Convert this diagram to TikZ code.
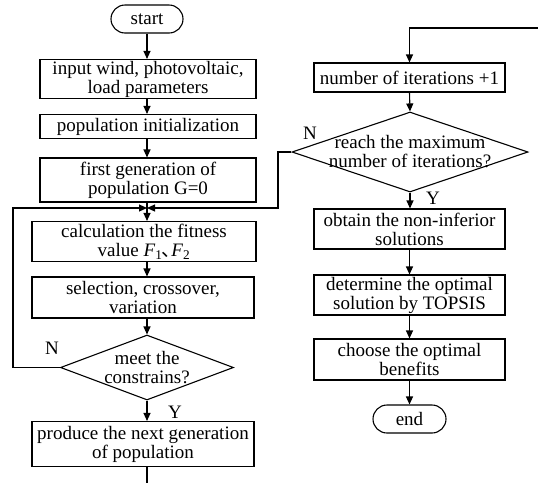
\documentclass[tikz,border=0pt]{standalone}
\usepackage{fontspec}
\setmainfont{Liberation Serif}
\newfontfamily\cjk{Noto Sans CJK SC}
\usetikzlibrary{shapes.misc,shapes.geometric,arrows.meta}
\begin{document}
\begin{tikzpicture}[x=1pt,y=-1pt,
  every node/.style={font=\fontsize{19}{19}\selectfont, inner sep=0pt, align=center},
  box/.style={draw, rectangle, line width=1.1pt},
  term/.style={draw, rounded rectangle, line width=1.1pt},
  dia/.style={draw, diamond, line width=1.1pt},
  arr/.style={line width=1.1pt, -{Triangle[length=8pt,width=7pt]}},
  ln/.style={line width=1.1pt}]
\useasboundingbox (0,0) rectangle (538,483);
% left column
\node[term, minimum width=72pt, minimum height=28pt] (start) at (147,19) {start};
\node[box, minimum width=216pt, minimum height=39pt] (in1) at (148,79) {input wind, photovoltaic,\\load parameters};
\node[box, minimum width=216pt, minimum height=24pt] (in2) at (148,126.5) {population initialization};
\node[box, minimum width=216pt, minimum height=44pt] (in3) at (148,180) {first generation of\\population G=0};
\node[box, minimum width=224pt, minimum height=40pt] (calc) at (144,241.5) {calculation the fitness\\value \textit{F}\textsubscript{1}\kern-1pt{\cjk 、}\kern-9pt\textit{F}\textsubscript{2}};
\node[box, minimum width=222pt, minimum height=41pt] (sel) at (143,297.5) {selection, crossover,\\variation};
\node[dia, minimum width=173pt, minimum height=65pt, label={[align=center]center:meet the\\constrains?}] (d1) at (147,367.5) {};
\node[box, minimum width=222pt, minimum height=45pt] (prod) at (143,444) {produce the next generation\\of population};
\node (n1) at (52,348) {N};
\node (y1) at (175,412) {Y};
% right column
\node[box, minimum width=191pt, minimum height=29pt] (it) at (409.5,77.5) {number of iterations +1};
\node[dia, minimum width=236pt, minimum height=80pt, label={[align=center]center:reach the maximum\\number of iterations?}] (d2) at (410,152) {};
\node[box, minimum width=191pt, minimum height=40pt] (ob) at (409.5,229) {obtain the non-inferior\\solutions};
\node[box, minimum width=191pt, minimum height=40pt] (det) at (409.5,295) {determine the optimal\\solution by TOPSIS};
\node[box, minimum width=191pt, minimum height=41pt] (ch) at (409.5,359.5) {choose the optimal\\benefits};
\node[term, minimum width=73pt, minimum height=28pt] (end) at (409.5,419) {end};
\node (n2) at (310,133) {N};
\node (y2) at (433,198) {Y};
% coordinates
\coordinate (J) at (147,208);
\coordinate (L) at (13,208);
\coordinate (R) at (278,208);
\coordinate (B) at (147,483);
\coordinate (T) at (538,28);
% connectors left
\draw[arr] (start.south) -- (start.south |- in1.north);
\draw[arr] (in1.south -| start.south) -- (start.south |- in2.north);
\draw[arr] (in2.south -| start.south) -- (start.south |- in3.north);
\draw[arr] (in3.south -| J) -- (J |- calc.north);
\draw[arr] (calc.south -| J) -- (J |- sel.north);
\draw[arr] (sel.south -| J) -- (d1.north);
\draw[arr] (d1.south) -- (d1.south |- prod.north);
\draw[ln] (prod.south -| B) -- (B);
\draw[arr] (d1.west) -| (L) -- (J);
% connectors right
\draw[arr] (T) -| (it.north);
\draw[arr] (it.south) -- (d2.north);
\draw[arr] (d2.south) -- (d2.south |- ob.north);
\draw[arr] (ob.south) -- (det.north);
\draw[arr] (det.south) -- (ch.north);
\draw[arr] (ch.south) -- (end.north);
\draw[arr] (d2.west) -| (R) -- (J);
\end{tikzpicture}
\end{document}
